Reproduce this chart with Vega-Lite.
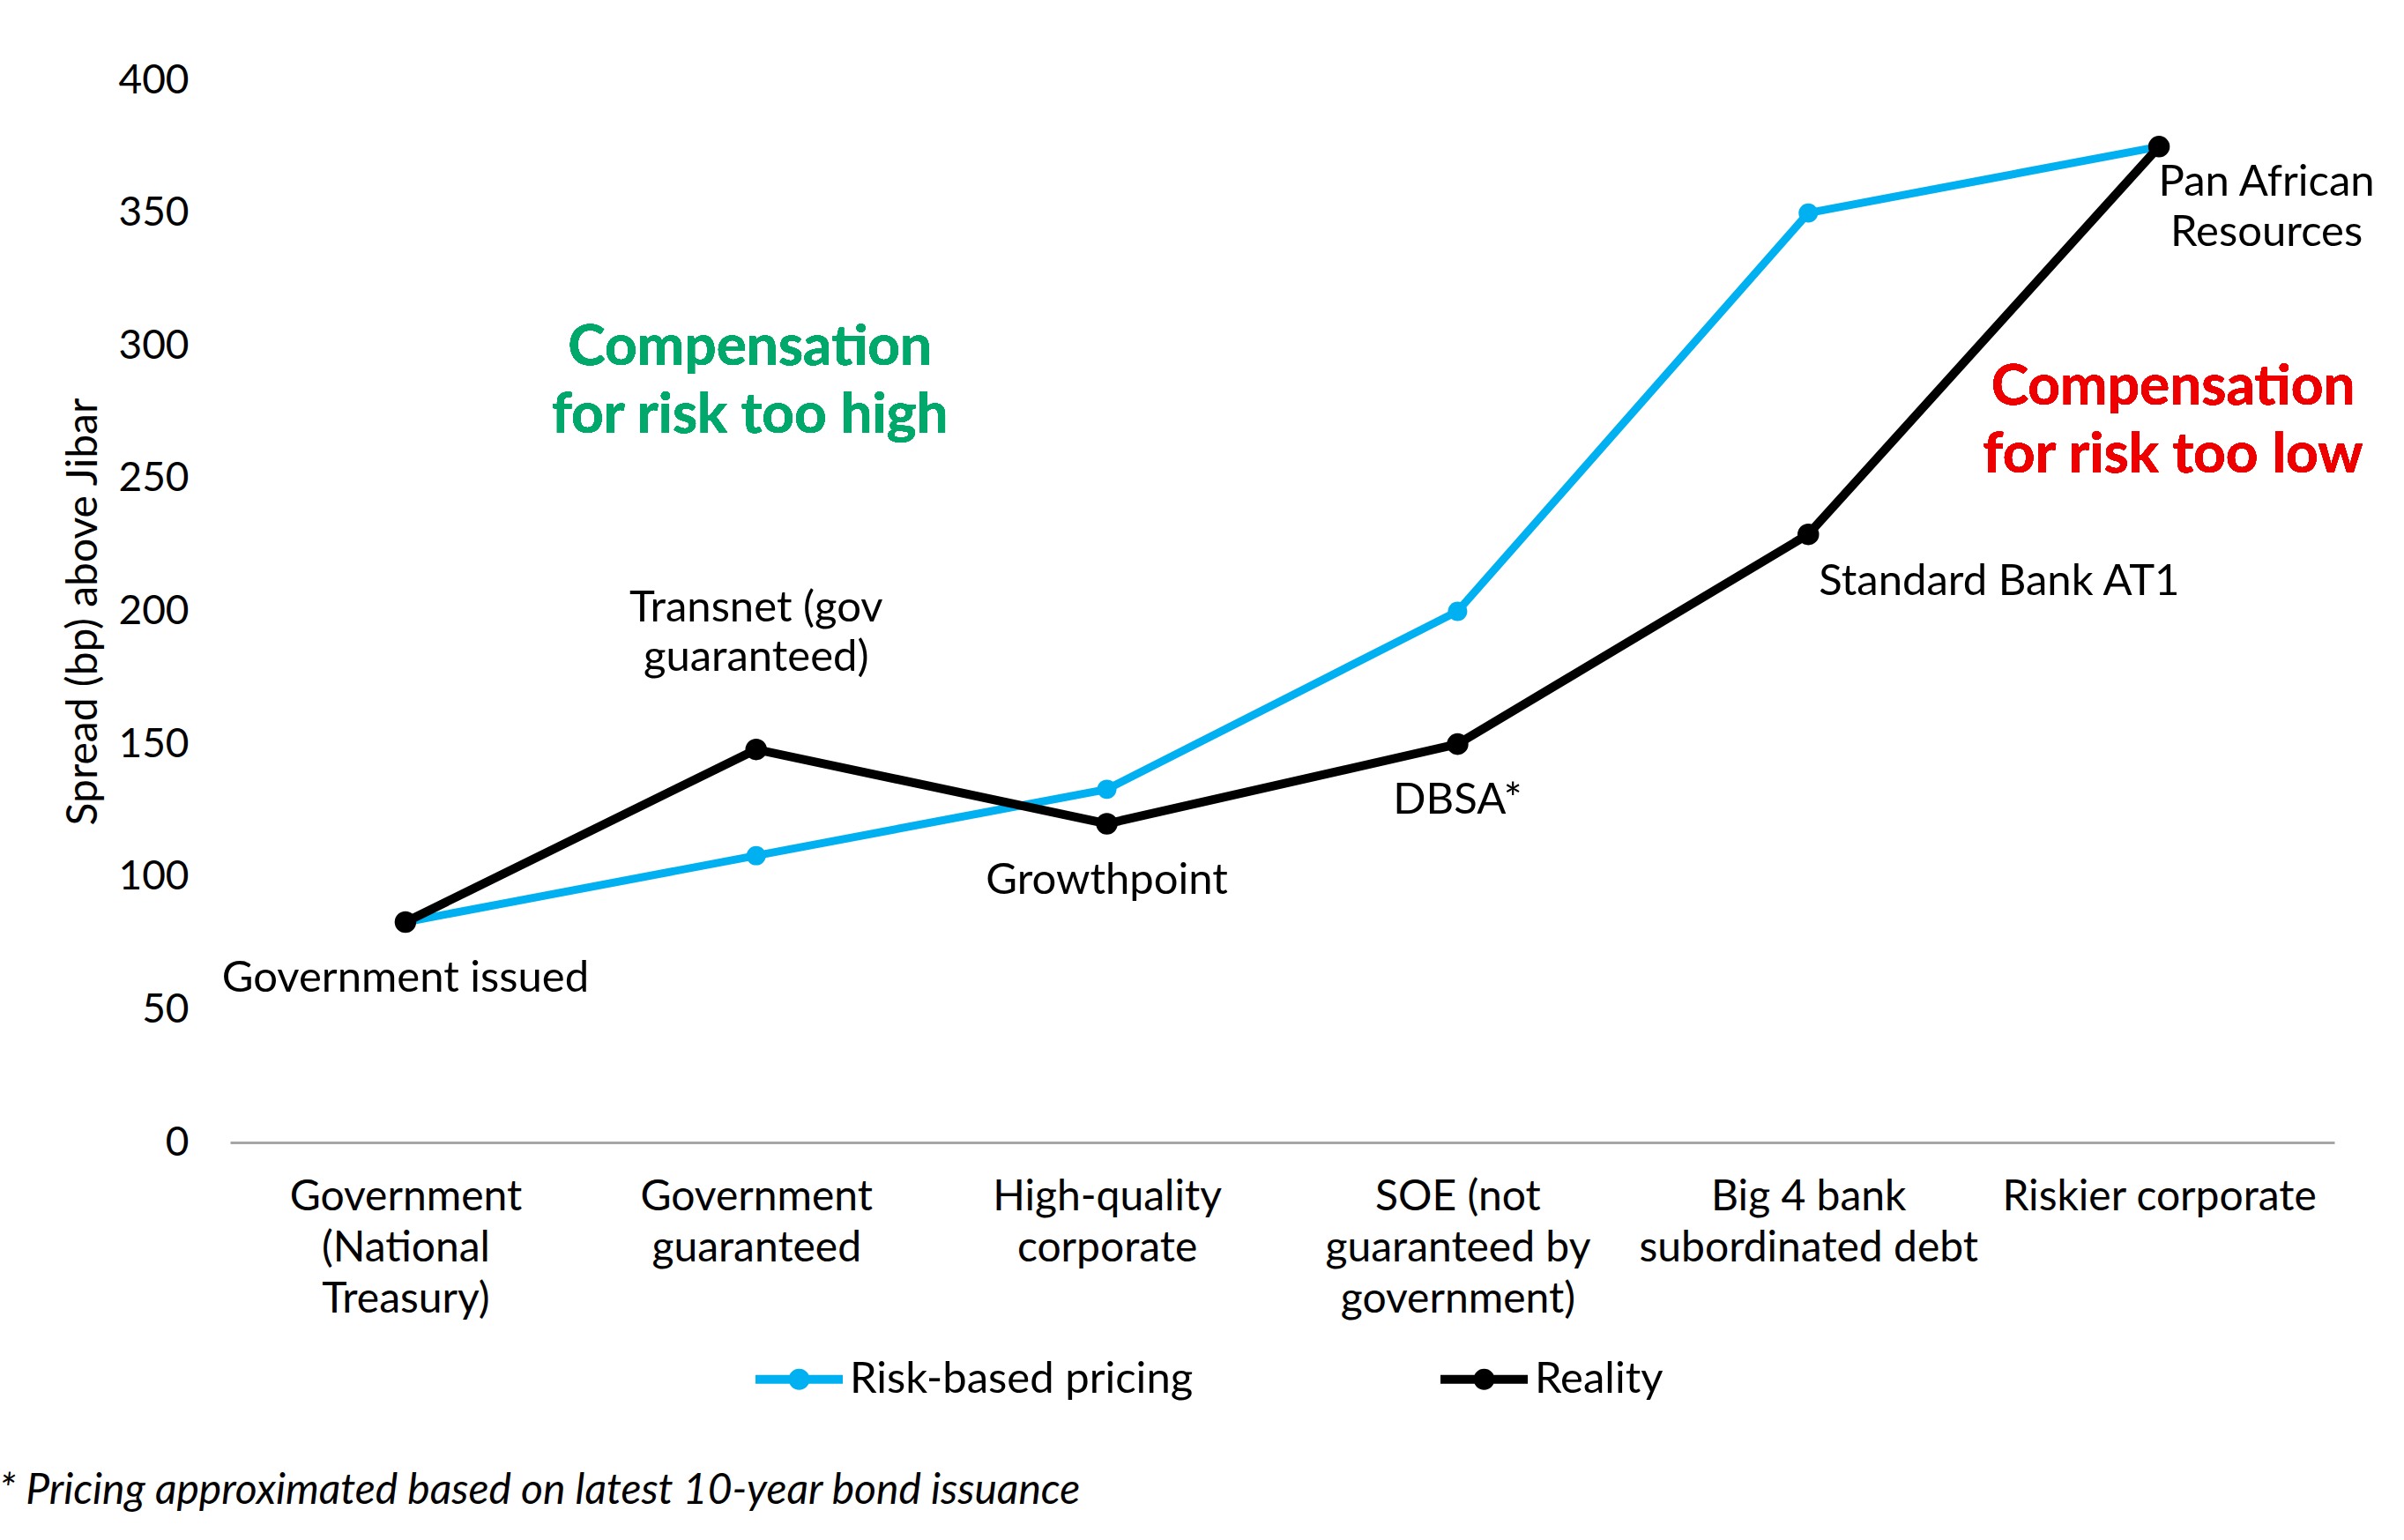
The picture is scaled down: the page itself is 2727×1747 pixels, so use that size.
{
  "$schema": "https://vega.github.io/schema/vega-lite/v6.json",
  "autosize": {"type": "none"},
  "width": 2387,
  "height": 1205,
  "padding": {"left": 261, "top": 91, "right": 79, "bottom": 451},
  "background": "white",
  "title": {
    "text": "* Pricing approximated based on latest 10-year bond issuance",
    "orient": "bottom",
    "anchor": "start",
    "frame": "bounds",
    "font": "Lato",
    "fontSize": 48,
    "fontStyle": "italic",
    "fontWeight": "normal",
    "color": "#000000",
    "offset": 76,
    "dx": -73
  },
  "datasets": {
    "spreads": [
      {"series": "Risk-based pricing", "category": "Government (National Treasury)", "spread": 83, "label": ""},
      {"series": "Risk-based pricing", "category": "Government guaranteed", "spread": 108, "label": ""},
      {"series": "Risk-based pricing", "category": "High-quality corporate", "spread": 133, "label": ""},
      {"series": "Risk-based pricing", "category": "SOE (not guaranteed by government)", "spread": 200, "label": ""},
      {"series": "Risk-based pricing", "category": "Big 4 bank subordinated debt", "spread": 350, "label": ""},
      {"series": "Risk-based pricing", "category": "Riskier corporate", "spread": 375, "label": ""},
      {"series": "Reality", "category": "Government (National Treasury)", "spread": 83, "label": "Government issued"},
      {"series": "Reality", "category": "Government guaranteed", "spread": 148, "label": "Transnet (gov\nguaranteed)"},
      {"series": "Reality", "category": "High-quality corporate", "spread": 120, "label": "Growthpoint"},
      {"series": "Reality", "category": "SOE (not guaranteed by government)", "spread": 150, "label": "DBSA*"},
      {"series": "Reality", "category": "Big 4 bank subordinated debt", "spread": 229, "label": "Standard Bank AT1"},
      {"series": "Reality", "category": "Riskier corporate", "spread": 375, "label": "Pan African\nResources"}
    ]
  },
  "data": {"name": "spreads"},
  "encoding": {
    "x": {
      "field": "category",
      "type": "nominal",
      "sort": null,
      "title": null,
      "axis": {
        "labelAngle": 0,
        "labelFont": "Lato",
        "labelFontSize": 48,
        "labelColor": "#000000",
        "labelLineHeight": 58,
        "labelPadding": 38,
        "labelLimit": 0,
        "ticks": false,
        "domainColor": "#A6A6A6",
        "domainWidth": 3,
        "grid": false,
        "labelExpr": "datum.value == 'Government (National Treasury)' ? ['Government', '(National', 'Treasury)'] : datum.value == 'Government guaranteed' ? ['Government', 'guaranteed'] : datum.value == 'High-quality corporate' ? ['High-quality', 'corporate'] : datum.value == 'SOE (not guaranteed by government)' ? ['SOE (not', 'guaranteed by', 'government)'] : datum.value == 'Big 4 bank subordinated debt' ? ['Big 4 bank', 'subordinated debt'] : datum.value"
      }
    },
    "y": {
      "field": "spread",
      "type": "quantitative",
      "scale": {"domain": [0, 400], "nice": false},
      "title": "Spread (bp) above Jibar",
      "axis": {
        "values": [0, 50, 100, 150, 200, 250, 300, 350, 400],
        "labelFont": "Lato",
        "labelFontSize": 46,
        "labelColor": "#000000",
        "labelPadding": 47,
        "ticks": false,
        "domain": false,
        "grid": false,
        "titleFont": "Lato",
        "titleFontSize": 48,
        "titleFontWeight": "normal",
        "titleColor": "#000000",
        "titlePadding": 14
      }
    }
  },
  "layer": [
    {
      "transform": [{"filter": "datum.series == 'Risk-based pricing'"}],
      "mark": {"type": "line", "strokeWidth": 9},
      "encoding": {
        "order": {"value": null},
        "color": {
          "field": "series",
          "type": "nominal",
          "scale": {"domain": ["Risk-based pricing", "Reality"], "range": ["#00B0F0", "#000000"]},
          "legend": {
            "title": null,
            "orient": "none",
            "direction": "horizontal",
            "legendX": 591,
            "legendY": 1419,
            "symbolType": "M-1,0L1,0M0.14,0A0.14,0.14 0 1,1 -0.14,0A0.14,0.14 0 1,1 0.14,0",
            "symbolSize": 9801,
            "symbolStrokeWidth": 10,
            "labelFont": "Lato",
            "labelFontSize": 49,
            "labelColor": "#000000",
            "labelLimit": 0,
            "labelOffset": 3,
            "columnPadding": 260
          }
        }
      }
    },
    {
      "transform": [{"filter": "datum.series == 'Reality'"}],
      "mark": {"type": "line", "strokeWidth": 10},
      "encoding": {
        "order": {"value": null},
        "color": {"field": "series", "type": "nominal"}
      }
    },
    {
      "transform": [{"filter": "datum.series == 'Risk-based pricing'"}],
      "mark": {"type": "point", "filled": true, "opacity": 1, "size": 480},
      "encoding": {"color": {"field": "series", "type": "nominal"}}
    },
    {
      "transform": [{"filter": "datum.series == 'Reality'"}],
      "mark": {"type": "point", "filled": true, "opacity": 1, "size": 600},
      "encoding": {"color": {"field": "series", "type": "nominal"}}
    },
    {
      "transform": [{"filter": {"field": "label", "oneOf": ["Government issued", "Growthpoint", "DBSA*"]}}],
      "mark": {"type": "text", "font": "Lato", "fontSize": 49, "color": "#000000", "align": "center", "baseline": "middle", "dy": 64},
      "encoding": {"text": {"field": "label"}}
    },
    {
      "transform": [{"filter": {"field": "label", "oneOf": ["Transnet (gov\nguaranteed)"]}}],
      "mark": {"type": "text", "font": "Lato", "fontSize": 49, "color": "#000000", "align": "center", "baseline": "middle", "lineBreak": "\n", "lineHeight": 56, "dy": -160},
      "encoding": {"text": {"field": "label"}}
    },
    {
      "transform": [{"filter": {"field": "label", "oneOf": ["Standard Bank AT1"]}}],
      "mark": {"type": "text", "font": "Lato", "fontSize": 49, "color": "#000000", "align": "left", "baseline": "middle", "dx": 12, "dy": 54},
      "encoding": {"text": {"field": "label"}}
    },
    {
      "transform": [{"filter": {"field": "label", "oneOf": ["Pan African\nResources"]}}],
      "mark": {"type": "text", "font": "Lato", "fontSize": 49, "color": "#000000", "align": "center", "baseline": "middle", "lineBreak": "\n", "lineHeight": 57, "dx": 122, "dy": 41},
      "encoding": {"text": {"field": "label"}}
    },
    {
      "mark": {"type": "text", "font": "Lato", "fontSize": 64, "fontWeight": "bold", "color": "#00A86B", "align": "center", "baseline": "middle", "lineBreak": "\n", "lineHeight": 77, "dx": -7},
      "encoding": {
        "x": {"datum": "Government guaranteed"},
        "y": {"datum": 299},
        "text": {"value": "Compensation\nfor risk too high"}
      }
    },
    {
      "mark": {"type": "text", "font": "Lato", "fontSize": 64, "fontWeight": "bold", "color": "#EE0000", "align": "center", "baseline": "middle", "lineBreak": "\n", "lineHeight": 77, "dx": 16},
      "encoding": {
        "x": {"datum": "Riskier corporate"},
        "y": {"datum": 284},
        "text": {"value": "Compensation\nfor risk too low"}
      }
    }
  ],
  "config": {
    "view": {"stroke": null},
    "font": "Lato"
  }
}
